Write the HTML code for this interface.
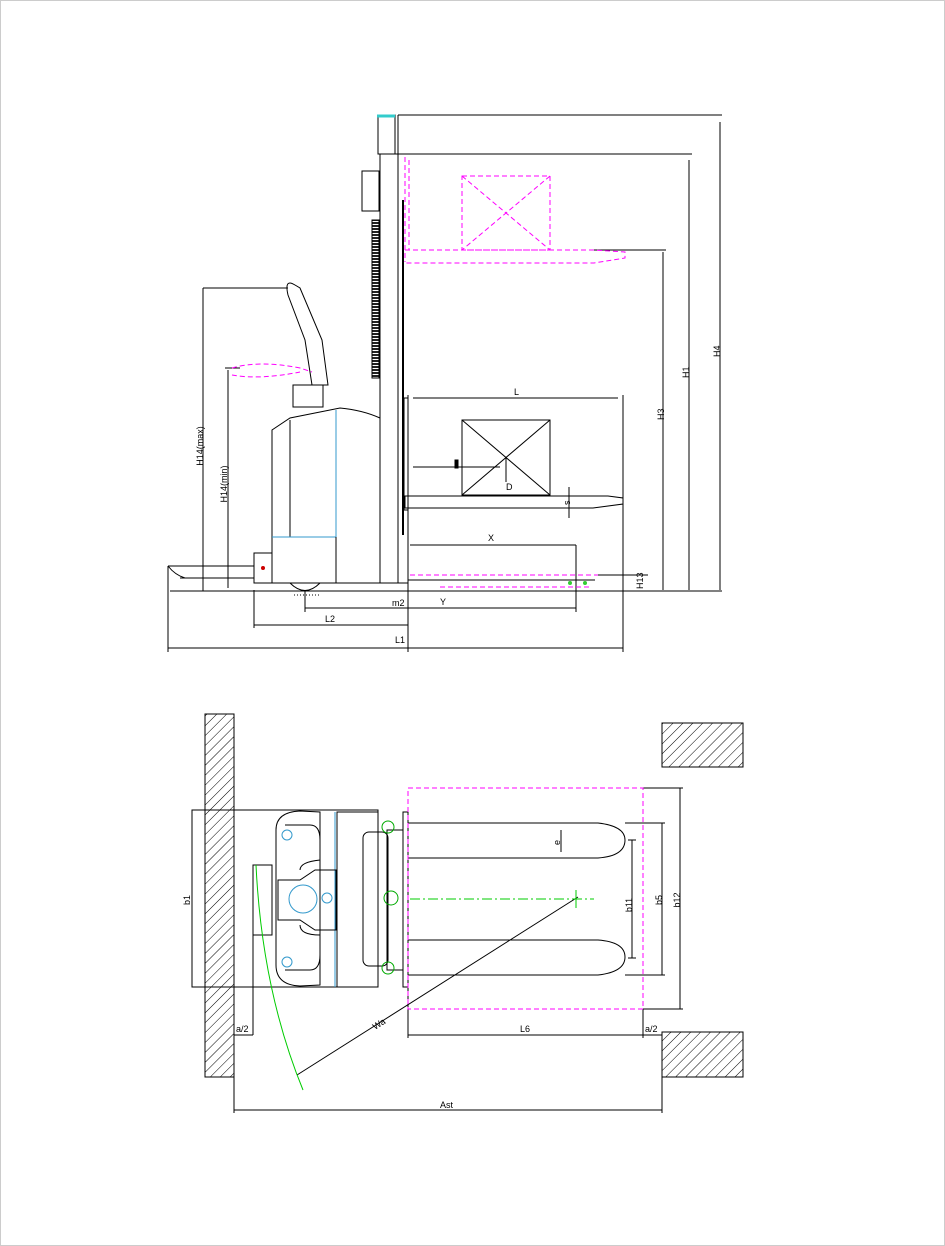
<!DOCTYPE html>
<html><head><meta charset="utf-8"><style>
html,body{margin:0;padding:0;background:#fff}
svg{display:block}
text{font-family:"Liberation Sans",sans-serif;font-size:9px;fill:#000}
</style></head><body>
<svg width="945" height="1246" viewBox="0 0 945 1246" xmlns="http://www.w3.org/2000/svg">
<defs>
<pattern id="h" width="7" height="7" patternUnits="userSpaceOnUse" patternTransform="rotate(45)">
<rect width="7" height="7" fill="#fff"/><line x1="0" y1="0" x2="0" y2="7" stroke="#000" stroke-width="1"/>
</pattern>
<pattern id="lad" width="8" height="3" patternUnits="userSpaceOnUse">
<rect width="8" height="3" fill="#fff"/><rect width="8" height="2" fill="#222"/>
</pattern>
</defs>
<rect x="0.5" y="0.5" width="944" height="1245" fill="#fff" stroke="#ccc"/>
<g fill="none" stroke="#000" stroke-width="1">
<line x1="398" y1="115" x2="722" y2="115"/>
<line x1="720" y1="122" x2="720" y2="590"/>
<line x1="398" y1="154" x2="692" y2="154"/>
<line x1="689" y1="160" x2="689" y2="590"/>
<line x1="594" y1="250" x2="666" y2="250"/>
<line x1="663" y1="252" x2="663" y2="590"/>
<line x1="170" y1="591" x2="722" y2="591"/>
<rect x="380" y="154" width="18" height="429"/>
<line x1="403" y1="200" x2="403" y2="535" stroke-width="2"/>
<line x1="398" y1="115" x2="398" y2="154"/>
<rect x="378" y="115" width="17" height="39"/>
<line x1="377" y1="116" x2="395" y2="116" stroke="#3cc" stroke-width="3"/>
<rect x="362" y="171" width="17" height="40"/>
<rect x="372" y="220" width="7" height="158" fill="url(#lad)"/>
<line x1="398" y1="583" x2="408" y2="583"/>
<rect x="404" y="398" width="4" height="112"/>
<line x1="413" y1="398" x2="618" y2="398"/>
<line x1="623" y1="395" x2="623" y2="652"/>
<line x1="408" y1="395" x2="408" y2="652"/>
<rect x="462" y="420" width="88" height="75"/>
<line x1="462" y1="420" x2="550" y2="495"/><line x1="550" y1="420" x2="462" y2="495"/>
<line x1="506" y1="458" x2="506" y2="482"/>
<line x1="413" y1="467" x2="500" y2="467"/>
<rect x="455" y="460" width="3" height="8" fill="#000"/>
<path d="M405 496 H608 L623 498 V504 L593 508 H405 Z"/>
<line x1="569" y1="487" x2="569" y2="518"/>
<line x1="410" y1="545" x2="576" y2="545"/>
<line x1="576" y1="545" x2="576" y2="612"/>
<line x1="408" y1="580" x2="595" y2="580"/>
<line x1="598" y1="575" x2="648" y2="575"/>
<line x1="305" y1="608" x2="576" y2="608"/>
<line x1="254" y1="625" x2="408" y2="625"/>
<line x1="254" y1="590" x2="254" y2="628"/>
<line x1="168" y1="648" x2="623" y2="648"/>
<line x1="168" y1="566" x2="168" y2="652"/>
<line x1="305" y1="590" x2="305" y2="612"/>
<path d="M272 583 V430 L290 418 L340 408 Q362 410 380 418"/>
<line x1="290" y1="420" x2="290" y2="537"/>
<line x1="336" y1="410" x2="336" y2="537" stroke="#39c"/>
<line x1="272" y1="537" x2="336" y2="537" stroke="#39c"/>
<line x1="336" y1="537" x2="336" y2="583"/>
<line x1="254" y1="583" x2="380" y2="583"/>
<rect x="254" y="553" width="18" height="30"/>
<path d="M290 583 Q305 598 320 583"/>
<line x1="294" y1="595" x2="320" y2="595" stroke-dasharray="1 2"/>
<path d="M168 566 H254 M180 578 H254 M168 566 Q175 575 185 578"/>
<path d="M295 285 Q284 278 288 295 L305 340 L312 385 L328 385 L322 340 L300 288 Z"/>
<rect x="293" y="385" width="30" height="22"/>
<line x1="203" y1="288" x2="288" y2="288"/>
<line x1="203" y1="288" x2="203" y2="591"/>
<line x1="225" y1="368" x2="240" y2="368"/>
<line x1="228" y1="370" x2="228" y2="588"/>
</g>
<g fill="none" stroke="#f0f" stroke-width="1" stroke-dasharray="5 3">
<path d="M405 157 V262"/><path d="M409 160 V250"/>
<rect x="462" y="176" width="88" height="74"/>
<line x1="462" y1="176" x2="550" y2="250"/><line x1="550" y1="176" x2="462" y2="250"/>
<path d="M405 250 H594 L625 252 V258 L594 263 H405"/>
<line x1="410" y1="575" x2="598" y2="575"/>
<line x1="440" y1="587" x2="590" y2="587"/>
<path d="M232 368 Q260 360 300 368 L312 372"/>
<path d="M232 375 Q260 380 300 372"/>
</g>
<circle cx="263" cy="568" r="2" fill="#c00"/>
<circle cx="570" cy="583" r="2" fill="#3c3"/><circle cx="585" cy="583" r="2" fill="#3c3"/>
<text transform="translate(203,446) rotate(-90)" text-anchor="middle">H14(max)</text>
<text transform="translate(227,484) rotate(-90)" text-anchor="middle">H14(min)</text>
<text x="514" y="395">L</text>
<text x="488" y="541">X</text>
<text x="440" y="605">Y</text>
<text x="325" y="622">L2</text>
<text x="395" y="643">L1</text>
<text x="506" y="490">D</text>
<text transform="translate(664,420) rotate(-90)">H3</text>
<text transform="translate(689,378) rotate(-90)">H1</text>
<text transform="translate(720,357) rotate(-90)">H4</text>
<text transform="translate(643,589) rotate(-90)">H13</text>
<text transform="translate(570,505) rotate(-90)" font-size="7">s</text>
<text x="392" y="606" font-size="8">m2</text>

<rect x="205" y="714" width="29" height="363" fill="url(#h)" stroke="#000"/>
<rect x="662" y="723" width="81" height="44" fill="url(#h)" stroke="#000"/>
<rect x="662" y="1032" width="81" height="45" fill="url(#h)" stroke="#000"/>
<g fill="none" stroke="#000" stroke-width="1">
<rect x="192" y="810" width="186" height="177"/>
<path d="M292 810 H337 M276 830 Q276 812 300 811 L320 812 V985 L300 986 Q276 985 276 965 Z"/>
<rect x="337" y="812" width="41" height="175"/>
<line x1="335" y1="812" x2="335" y2="987" stroke="#39c"/>
<path d="M285 825 H310 Q320 825 320 840 V860 Q300 862 300 870 M285 970 H310 Q320 970 320 955 V935 Q300 935 300 925"/>
<path d="M278 880 H300 L315 870 H336 V930 H315 L300 920 H278 Z"/>
<circle cx="303" cy="899" r="14" stroke="#39c"/>
<circle cx="287" cy="835" r="5" stroke="#39c"/><circle cx="287" cy="962" r="5" stroke="#39c"/>
<circle cx="327" cy="898" r="5" stroke="#39c"/>
<rect x="363" y="832" width="25" height="134" rx="6"/>
<rect x="387" y="830" width="16" height="140"/>
<rect x="403" y="812" width="5" height="175"/>
<rect x="253" y="865" width="19" height="70"/>
<path d="M408 823 H598 Q625 826 625 840 Q625 856 598 858 H408"/>
<path d="M408 940 H598 Q625 942 625 957 Q625 972 598 975 H408"/>
<line x1="561" y1="830" x2="561" y2="852"/>
<line x1="297" y1="1075" x2="578" y2="897"/>
<line x1="643" y1="788" x2="683" y2="788"/>
<line x1="643" y1="1009" x2="683" y2="1009"/>
<line x1="680" y1="788" x2="680" y2="1009"/>
<line x1="625" y1="823" x2="665" y2="823"/>
<line x1="625" y1="975" x2="665" y2="975"/>
<line x1="662" y1="823" x2="662" y2="975"/>
<line x1="632" y1="840" x2="632" y2="958"/>
<line x1="628" y1="840" x2="636" y2="840"/><line x1="628" y1="958" x2="636" y2="958"/>
<line x1="408" y1="987" x2="408" y2="1038"/>
<line x1="643" y1="1009" x2="643" y2="1038"/>
<line x1="408" y1="1035" x2="643" y2="1035"/>
<line x1="643" y1="1035" x2="662" y2="1035"/>
<line x1="234" y1="1035" x2="253" y2="1035"/>
<line x1="253" y1="935" x2="253" y2="1035"/>
<line x1="234" y1="1077" x2="234" y2="1113"/>
<line x1="662" y1="1077" x2="662" y2="1113"/>
<line x1="234" y1="1110" x2="662" y2="1110"/>
</g>
<rect x="408" y="788" width="235" height="221" fill="none" stroke="#f0f" stroke-dasharray="5 3"/>
<line x1="410" y1="899" x2="594" y2="899" stroke="#0c0" stroke-dasharray="10 3 2 3"/>
<line x1="576" y1="890" x2="576" y2="908" stroke="#0c0"/>
<path d="M256 865 Q262 990 303 1090" fill="none" stroke="#0c0"/>
<g fill="none" stroke="#0a0"><circle cx="388" cy="827" r="6"/><circle cx="391" cy="898" r="7"/><circle cx="388" cy="968" r="6"/></g>
<text transform="translate(190,900) rotate(-90)" text-anchor="middle">b1</text>
<text transform="translate(632,905) rotate(-90)" text-anchor="middle">b11</text>
<text transform="translate(662,900) rotate(-90)" text-anchor="middle">b5</text>
<text transform="translate(680,900) rotate(-90)" text-anchor="middle">b12</text>
<text transform="translate(560,845) rotate(-90)" font-size="7">e</text>
<text x="520" y="1032">L6</text>
<text x="236" y="1032">a/2</text>
<text x="645" y="1032">a/2</text>
<text x="440" y="1108">Ast</text>
<text transform="translate(375,1030) rotate(-32)">Wa</text>
</svg>
</body></html>
